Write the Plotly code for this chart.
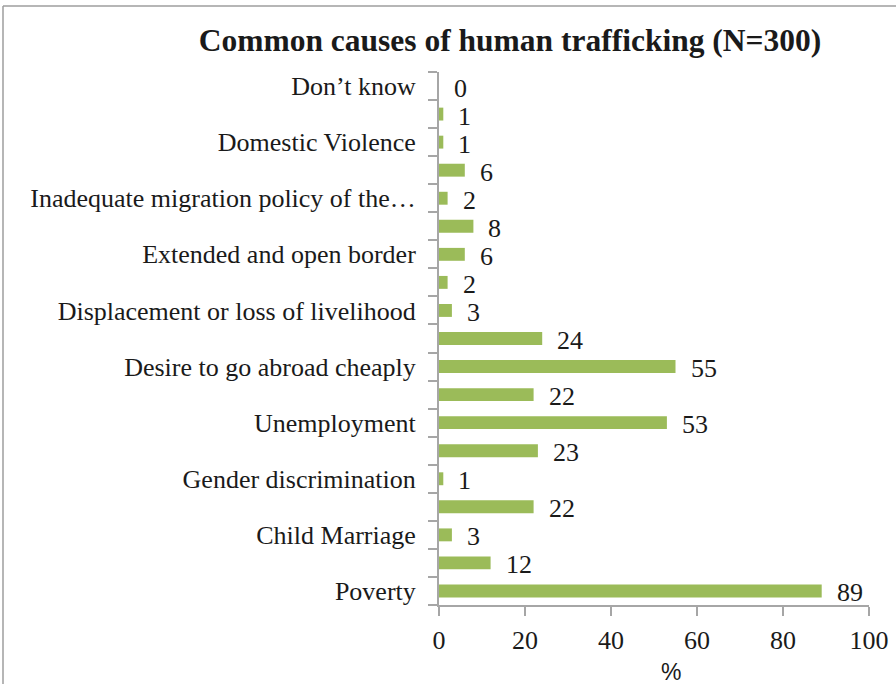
import plotly.graph_objects as go

# bottom-to-top order
labels = ["Poverty", "", "Child Marriage", "", "Gender discrimination", "",
          "Unemployment", "", "Desire to go abroad cheaply", "",
          "Displacement or loss of livelihood", "", "Extended and open border", "",
          "Inadequate migration policy of the\u2026", "", "Domestic Violence", "", "Don\u2019t know"]
values = [89, 12, 3, 22, 1, 23, 53, 22, 55, 24, 3, 2, 6, 8, 2, 6, 1, 1, 0]
x_ticks = [0, 20, 40, 60, 80, 100]

positions = list(range(len(values)))
label_pos = [p for p, l in zip(positions, labels) if l]
label_txt = [l for l in labels if l]

W, H = 896, 684
L, R, T, B = 439, 27, 72, 79
pw, ph = W - L - R, H - T - B

serif = "Liberation Serif, Times New Roman, serif"
axis_col = "#A6A6A6"

fig = go.Figure(go.Bar(
    x=values, y=positions, orientation="h",
    marker=dict(color="#9BBB59", line=dict(width=0)),
    width=0.46, hoverinfo="x+y",
))

for p, v in zip(positions, values):
    fig.add_annotation(x=v, y=p, text=str(v), showarrow=False, xanchor="left",
                       xshift=13, yshift=-2, font=dict(family=serif, size=26, color="#1a1a1a"))

fig.add_annotation(x=(671 - L) / pw, y=(H - B - 672) / ph, xref="paper", yref="paper",
                   text="%", showarrow=False, yanchor="middle", xanchor="center",
                   font=dict(family="Liberation Sans, Arial, sans-serif", size=23, color="#1a1a1a"))

# frame (left and top edges visible)
fx0 = (3 - L) / pw
fy_top = (H - B - 6) / ph
fy_bot = (H - B - H - 5) / ph
fx1 = (W + 5 - L) / pw
fig.add_shape(type="line", xref="paper", yref="paper", x0=fx0, x1=fx0, y0=fy_bot, y1=fy_top,
              line=dict(color="#9E9E9E", width=1.5))
fig.add_shape(type="line", xref="paper", yref="paper", x0=fx0, x1=fx1, y0=fy_top, y1=fy_top,
              line=dict(color="#9E9E9E", width=1.5))

fig.update_layout(
    width=W, height=H,
    margin=dict(l=L, r=R, t=T, b=B, autoexpand=False),
    paper_bgcolor="white", plot_bgcolor="white",
    showlegend=False,
    title=dict(text="<b>Common causes of human trafficking (N=300)</b>",
               x=510 / W, xref="container", xanchor="center",
               y=1 - 40 / H, yref="container", yanchor="middle",
               font=dict(family=serif, size=31.5, color="#1a1a1a")),
    xaxis=dict(range=[0, 100], tickvals=x_ticks, ticktext=[str(t) for t in x_ticks],
               showgrid=False, zeroline=False, showline=True, linecolor=axis_col, linewidth=2,
               ticks="outside", ticklen=9, tickwidth=2, tickcolor=axis_col,
               ticklabelstandoff=2, automargin=False,
               tickfont=dict(family=serif, size=26, color="#1a1a1a")),
    yaxis=dict(range=[-0.5, len(values) - 0.5], tickmode="array", tickvals=label_pos, ticktext=label_txt,
               showgrid=False, zeroline=False, showline=True, linecolor=axis_col, linewidth=2,
               ticks="", ticklabelstandoff=16, automargin=False,
               minor=dict(tickmode="linear", tick0=-0.5, dtick=1, ticks="outside", ticklen=9,
                          tickwidth=2, tickcolor=axis_col, showgrid=False),
               tickfont=dict(family=serif, size=26, color="#1a1a1a")),
)

fig.write_html("out.html", config={"displayModeBar": False},
               post_script="document.body.style.margin='0';document.body.style.overflow='hidden';")
